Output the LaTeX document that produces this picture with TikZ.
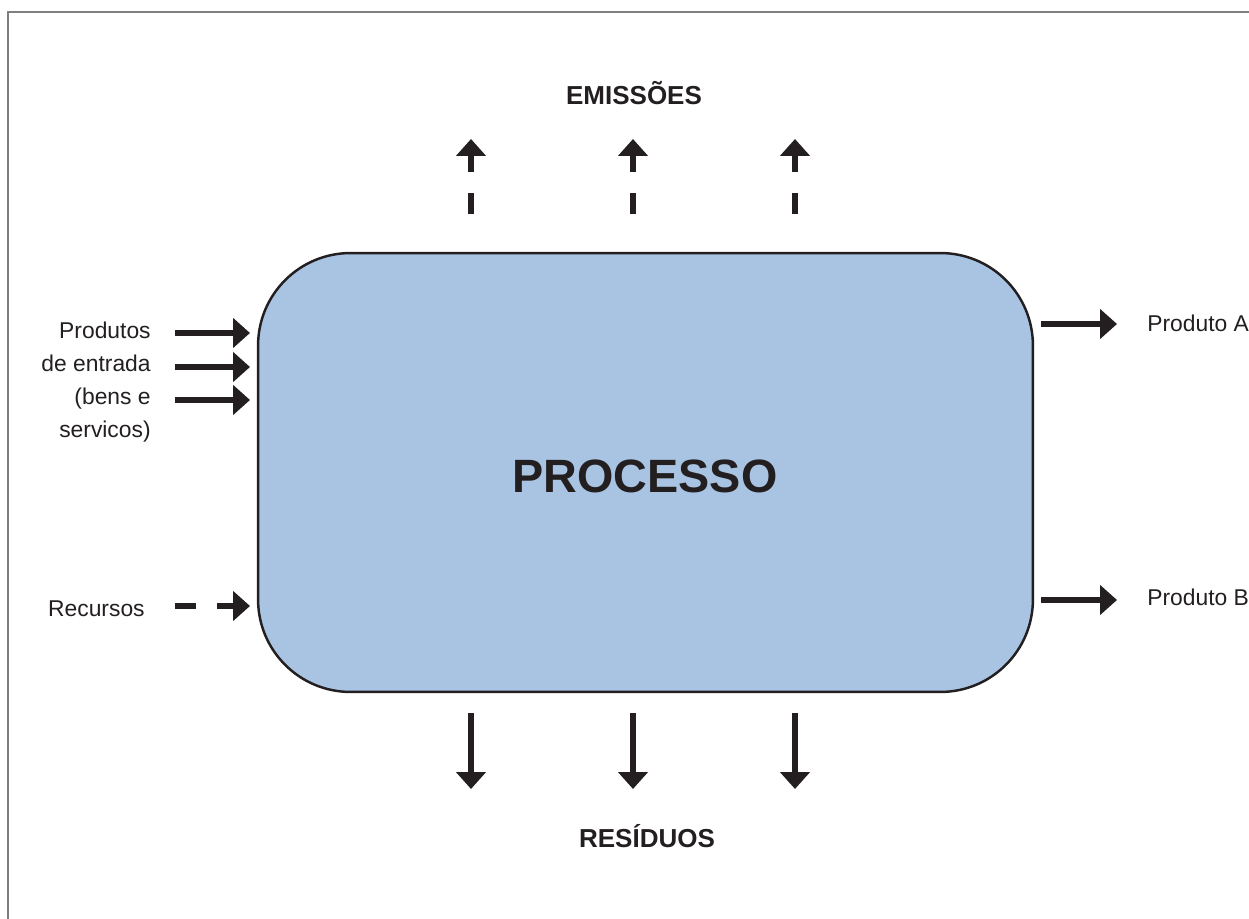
\documentclass[tikz,border=0pt]{standalone}
\usepackage{fontspec}
\setmainfont{Liberation Sans}
\usetikzlibrary{arrows.meta}
\definecolor{ink}{HTML}{231F20}
\definecolor{boxfill}{HTML}{A8C4E2}
\definecolor{framegray}{HTML}{7F7F7F}
\begin{document}
\begin{tikzpicture}[x=0.02cm,y=-0.02cm,
  flow/.style={draw=ink,line width=2.9pt,-{Triangle[length=9.6pt,width=16.5pt]}},
  dashflow/.style={flow,dash pattern=on 12pt off 12pt on 200pt},
  lbl/.style={text=ink,font=\fontsize{13pt}{18.7pt}\selectfont,inner sep=0pt},
  head/.style={text=ink,font=\fontsize{14.8pt}{18pt}\selectfont\bfseries,inner sep=0pt}]
\useasboundingbox (0,0) rectangle (1249,919);
\draw[framegray,line width=1.2pt] (1249,12) -- (8,12) -- (8,919);
\node[draw=ink,fill=boxfill,line width=1.4pt,rounded corners=1.85cm,
  minimum width=15.5cm,minimum height=8.78cm,inner sep=0pt] (proc) at (645.5,472.5) {};
\node[text=ink,font=\fontsize{26.6pt}{30pt}\selectfont\bfseries,inner sep=0pt] (ptxt) at (645,476) {PROCESSO};
% inputs
\node[lbl,align=right,anchor=east] (prod) at (151,382) {Produtos\\de entrada\\(bens e\\servicos)};
\coordinate (i1s) at (175,333); \coordinate (i1e) at (250,333);
\coordinate (i2s) at (175,367); \coordinate (i2e) at (250,367);
\coordinate (i3s) at (175,400); \coordinate (i3e) at (250,400);
\draw[flow] (i1s) -- (i1e);
\draw[flow] (i2s) -- (i2e);
\draw[flow] (i3s) -- (i3e);
\node[lbl,anchor=east] (rec) at (145,609) {Recursos};
\coordinate (rs) at (175,606); \coordinate (re) at (250,606);
\draw[dashflow] (rs) -- (re);
% outputs
\coordinate (as) at (1041,324); \coordinate (ae) at (1117,324);
\draw[flow] (as) -- (ae);
\node[lbl,anchor=west] (pa) at (1147,323) {Produto A};
\coordinate (bs) at (1041,600); \coordinate (be) at (1117,600);
\draw[flow] (bs) -- (be);
\node[lbl,anchor=west] (pb) at (1147,597) {Produto B};
% emissions
\node[head] (emi) at (634,93) {EMISSÕES};
\foreach \i/\x in {1/471,2/633,3/795}{
  \coordinate (es\i) at (\x,214); \coordinate (ee\i) at (\x,139);
  \draw[dashflow] (es\i) -- (ee\i);
  \coordinate (ws\i) at (\x,713); \coordinate (we\i) at (\x,789);
  \draw[flow] (ws\i) -- (we\i);
}
\node[head] (res) at (647,836) {RESÍDUOS};
\end{tikzpicture}
\end{document}
